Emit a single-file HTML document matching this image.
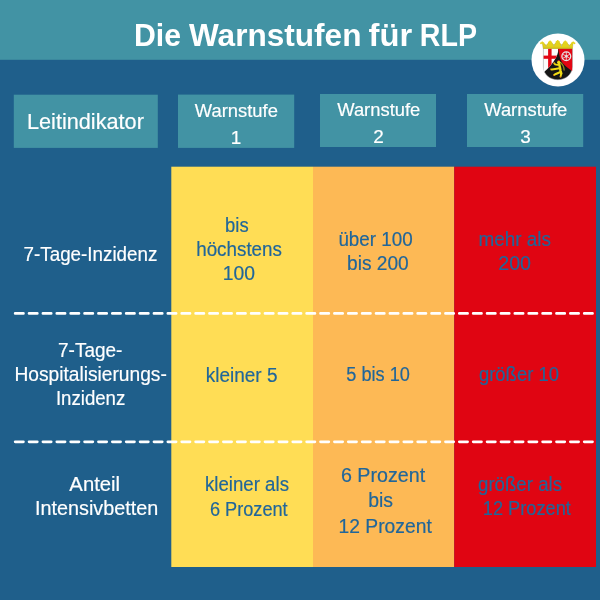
<!DOCTYPE html>
<html><head><meta charset="utf-8"><style>
html,body{margin:0;padding:0;width:600px;height:600px;overflow:hidden;background:#1F5F8B;}
svg{display:block;will-change:transform;filter:blur(0.4px);font-family:"Liberation Sans",sans-serif;}
</style></head><body>
<svg width="600" height="600" viewBox="0 0 600 600">
<rect width="600" height="600" fill="#1F5F8B"/>
<rect width="600" height="59.8" fill="#4293A4"/>
<rect x="13.8" y="94.7" width="144" height="53.2" fill="#4293A4"/>
<rect x="178" y="94.6" width="116.2" height="53.3" fill="#4293A4"/>
<rect x="320" y="94" width="116" height="53" fill="#4293A4"/>
<rect x="467" y="94" width="116.2" height="53" fill="#4293A4"/>
<rect x="171.3" y="166.7" width="141.7" height="400.3" fill="#FFDD55"/>
<rect x="313" y="166.7" width="141.2" height="400.3" fill="#FDB955"/>
<rect x="454.2" y="166.7" width="141.8" height="400.3" fill="#E00512"/>
<line x1="15.2" y1="313.4" x2="596" y2="313.4" stroke="#fff" stroke-width="2.8" stroke-linecap="round" stroke-dasharray="8.2 5.68"/>
<line x1="15.2" y1="441.8" x2="596" y2="441.8" stroke="#fff" stroke-width="2.8" stroke-linecap="round" stroke-dasharray="8.2 5.68"/>
<text x="133.98" y="45.6" textLength="47.06" lengthAdjust="spacingAndGlyphs" font-size="32" fill="#fff" font-weight="bold">Die</text>
<text x="188.97" y="45.6" textLength="172.48" lengthAdjust="spacingAndGlyphs" font-size="32" fill="#fff" font-weight="bold">Warnstufen</text>
<text x="368.54" y="45.6" textLength="43.66" lengthAdjust="spacingAndGlyphs" font-size="32" fill="#fff" font-weight="bold">für</text>
<text x="419.79" y="45.6" textLength="57.19" lengthAdjust="spacingAndGlyphs" font-size="32" fill="#fff" font-weight="bold">RLP</text>
<text x="26.97" y="128.8" textLength="116.89" lengthAdjust="spacingAndGlyphs" font-size="21.2" fill="#fff" font-weight="normal" stroke="#fff" stroke-width="0.18">Leitindikator</text>
<text x="194.82" y="116.6" textLength="83.09" lengthAdjust="spacingAndGlyphs" font-size="18.9" fill="#fff" font-weight="normal" stroke="#fff" stroke-width="0.18">Warnstufe</text>
<text x="236" y="143.7" text-anchor="middle" font-size="18.9" fill="#fff" font-weight="normal" stroke="#fff" stroke-width="0.18">1</text>
<text x="337.22" y="115.6" textLength="83.09" lengthAdjust="spacingAndGlyphs" font-size="18.9" fill="#fff" font-weight="normal" stroke="#fff" stroke-width="0.18">Warnstufe</text>
<text x="378.4" y="142.9" text-anchor="middle" font-size="18.9" fill="#fff" font-weight="normal" stroke="#fff" stroke-width="0.18">2</text>
<text x="484.22" y="115.6" textLength="83.09" lengthAdjust="spacingAndGlyphs" font-size="18.9" fill="#fff" font-weight="normal" stroke="#fff" stroke-width="0.18">Warnstufe</text>
<text x="525.4" y="142.9" text-anchor="middle" font-size="18.9" fill="#fff" font-weight="normal" stroke="#fff" stroke-width="0.18">3</text>
<text x="23.55" y="260.5" textLength="133.87" lengthAdjust="spacingAndGlyphs" font-size="19.3" fill="#fff" font-weight="normal" stroke="#fff" stroke-width="0.18">7-Tage-Inzidenz</text>
<text x="58.06" y="356.7" textLength="64.36" lengthAdjust="spacingAndGlyphs" font-size="19.3" fill="#fff" font-weight="normal" stroke="#fff" stroke-width="0.18">7-Tage-</text>
<text x="14.43" y="381" textLength="152.43" lengthAdjust="spacingAndGlyphs" font-size="19.3" fill="#fff" font-weight="normal" stroke="#fff" stroke-width="0.18">Hospitalisierungs-</text>
<text x="55.88" y="405.4" textLength="69.45" lengthAdjust="spacingAndGlyphs" font-size="19.3" fill="#fff" font-weight="normal" stroke="#fff" stroke-width="0.18">Inzidenz</text>
<text x="69.36" y="491.2" textLength="50.75" lengthAdjust="spacingAndGlyphs" font-size="19.3" fill="#fff" font-weight="normal" stroke="#fff" stroke-width="0.18">Anteil</text>
<text x="34.97" y="515.3" textLength="123.31" lengthAdjust="spacingAndGlyphs" font-size="19.3" fill="#fff" font-weight="normal" stroke="#fff" stroke-width="0.18">Intensivbetten</text>
<text x="225.11" y="231.7" textLength="23.55" lengthAdjust="spacingAndGlyphs" font-size="19.3" fill="#20669A" font-weight="normal" stroke="#20669A" stroke-width="0.18">bis</text>
<text x="196.20" y="255.8" textLength="85.78" lengthAdjust="spacingAndGlyphs" font-size="19.3" fill="#20669A" font-weight="normal" stroke="#20669A" stroke-width="0.18">höchstens</text>
<text x="222.73" y="280" textLength="32.23" lengthAdjust="spacingAndGlyphs" font-size="19.3" fill="#20669A" font-weight="normal" stroke="#20669A" stroke-width="0.18">100</text>
<text x="205.72" y="381.7" textLength="71.78" lengthAdjust="spacingAndGlyphs" font-size="19.3" fill="#20669A" font-weight="normal" stroke="#20669A" stroke-width="0.18">kleiner 5</text>
<text x="205.04" y="490.8" textLength="83.93" lengthAdjust="spacingAndGlyphs" font-size="19.3" fill="#20669A" font-weight="normal" stroke="#20669A" stroke-width="0.18">kleiner als</text>
<text x="209.88" y="515.8" textLength="77.76" lengthAdjust="spacingAndGlyphs" font-size="19.3" fill="#20669A" font-weight="normal" stroke="#20669A" stroke-width="0.18">6 Prozent</text>
<text x="338.42" y="246.2" textLength="74.31" lengthAdjust="spacingAndGlyphs" font-size="19.3" fill="#20669A" font-weight="normal" stroke="#20669A" stroke-width="0.18">über 100</text>
<text x="347.07" y="270.4" textLength="61.68" lengthAdjust="spacingAndGlyphs" font-size="19.3" fill="#20669A" font-weight="normal" stroke="#20669A" stroke-width="0.18">bis 200</text>
<text x="346.27" y="381.2" textLength="63.64" lengthAdjust="spacingAndGlyphs" font-size="19.3" fill="#20669A" font-weight="normal" stroke="#20669A" stroke-width="0.18">5 bis 10</text>
<text x="340.90" y="481.6" textLength="84.24" lengthAdjust="spacingAndGlyphs" font-size="19.3" fill="#20669A" font-weight="normal" stroke="#20669A" stroke-width="0.18">6 Prozent</text>
<text x="368.15" y="507.25" textLength="24.86" lengthAdjust="spacingAndGlyphs" font-size="19.3" fill="#20669A" font-weight="normal" stroke="#20669A" stroke-width="0.18">bis</text>
<text x="338.53" y="532.9" textLength="93.31" lengthAdjust="spacingAndGlyphs" font-size="19.3" fill="#20669A" font-weight="normal" stroke="#20669A" stroke-width="0.18">12 Prozent</text>
<text x="478.44" y="245.8" textLength="72.54" lengthAdjust="spacingAndGlyphs" font-size="19.3" fill="#20669A" font-weight="normal" stroke="#20669A" stroke-width="0.18">mehr als</text>
<text x="498.21" y="270.3" textLength="32.86" lengthAdjust="spacingAndGlyphs" font-size="19.3" fill="#20669A" font-weight="normal" stroke="#20669A" stroke-width="0.18">200</text>
<text x="478.92" y="380.8" textLength="80.10" lengthAdjust="spacingAndGlyphs" font-size="19.3" fill="#20669A" font-weight="normal" stroke="#20669A" stroke-width="0.18">größer 10</text>
<text x="478.02" y="490.7" textLength="83.96" lengthAdjust="spacingAndGlyphs" font-size="19.3" fill="#20669A" font-weight="normal" stroke="#20669A" stroke-width="0.18">größer als</text>
<text x="482.81" y="515" textLength="88.12" lengthAdjust="spacingAndGlyphs" font-size="19.3" fill="#20669A" font-weight="normal" stroke="#20669A" stroke-width="0.18">12 Prozent</text>

<circle cx="558" cy="60" r="26.5" fill="#fff"/>
<defs><clipPath id="wc"><path d="M543.4 48.4 H558 V52 C557.3 57 551.5 66 543.4 72.4 Z"/></clipPath></defs>
<path d="M543.4 48.4 H572.2 V67 C572.2 74.5 565.5 79.7 557.8 79.7 C550 79.7 543.4 74.5 543.4 67 Z" fill="#161616" stroke="#9a9a9a" stroke-width="0.5"/>
<path d="M543.4 48.4 H558 V52 C557.3 57 551.5 66 543.4 72.4 Z" fill="#fbfbfb"/>
<g clip-path="url(#wc)"><rect x="548.1" y="48.4" width="3.5" height="20" fill="#e30613"/><rect x="543.4" y="55.6" width="16" height="3.2" fill="#e30613"/></g>
<path d="M558 48.4 H572.2 V71 C565 66.5 560.5 62 559.6 56 L558 48.4 Z" fill="#e30613"/>
<circle cx="566.3" cy="56.3" r="4.4" fill="none" stroke="#e6e6e6" stroke-width="1.3"/>
<circle cx="566.3" cy="56.3" r="1.2" fill="#e6e6e6"/>
<path d="M566.3 51.9 V60.7 M562.5 54.1 L570.1 58.5 M570.1 54.1 L562.5 58.5" stroke="#e6e6e6" stroke-width="0.8"/>
<path d="M560.5 62.4 C562.5 64 564 67 564.1 70.1" fill="none" stroke="#8e8a1a" stroke-width="1.3" stroke-linecap="round"/>
<g fill="none" stroke="#f0dc14" stroke-linecap="round" stroke-linejoin="round">
<path d="M558.8 62.5 C559.5 65.5 560.2 68 560.5 70.5 L561.3 73.5" stroke-width="2.4"/>
<path d="M558.5 64.8 C556.5 65 554.8 64.8 554.2 63.3" stroke-width="1.9"/>
<path d="M559.6 68.3 C556.5 69 553 69.6 550.9 69.4" stroke-width="1.9"/>
<path d="M560.5 72 C558 73 555.5 74 554.1 75" stroke-width="1.9"/>
<path d="M561.2 73 C561.3 74.5 560.8 75.8 560.5 76.6" stroke-width="1.9"/>
</g>
<circle cx="558.7" cy="62.3" r="1.6" fill="#f0dc14"/>
<rect x="557.7" y="60" width="1.9" height="0.9" fill="#d02020"/>
<g fill="#c83018"><circle cx="550.4" cy="69.3" r="0.55"/><circle cx="553.7" cy="75.3" r="0.55"/><circle cx="560.4" cy="77.1" r="0.55"/><circle cx="553.9" cy="62.9" r="0.5"/></g>
<path d="M542.2 42.0 L546.2 45.3 L550.1 41.1 L553.9 45.0 L557.7 40.6 L561.5 45.0 L565.3 41.1 L569.2 45.3 L573.2 42.0 L572.4 48.4 H543.2 Z" fill="#e4d21a" stroke="#9a8c10" stroke-width="0.35" stroke-linejoin="round"/>
<circle cx="541.0" cy="43.3" r="0.95" fill="#e6d41c"/><circle cx="543.4" cy="43.3" r="0.95" fill="#e6d41c"/><circle cx="542.2" cy="42.5" r="1.0" fill="#e6d41c"/>
<circle cx="548.9" cy="42.4" r="0.95" fill="#e6d41c"/><circle cx="551.3" cy="42.4" r="0.95" fill="#e6d41c"/><circle cx="550.1" cy="41.6" r="1.0" fill="#e6d41c"/>
<circle cx="556.5" cy="41.9" r="0.95" fill="#e6d41c"/><circle cx="558.9" cy="41.9" r="0.95" fill="#e6d41c"/><circle cx="557.7" cy="41.1" r="1.0" fill="#e6d41c"/>
<circle cx="564.1" cy="42.4" r="0.95" fill="#e6d41c"/><circle cx="566.5" cy="42.4" r="0.95" fill="#e6d41c"/><circle cx="565.3" cy="41.6" r="1.0" fill="#e6d41c"/>
<circle cx="572.0" cy="43.3" r="0.95" fill="#e6d41c"/><circle cx="574.4" cy="43.3" r="0.95" fill="#e6d41c"/><circle cx="573.2" cy="42.5" r="1.0" fill="#e6d41c"/>
<circle cx="546.2" cy="45.9" r="0.6" fill="#b0b0a8"/>
<circle cx="553.9" cy="45.6" r="0.6" fill="#b0b0a8"/>
<circle cx="561.5" cy="45.6" r="0.6" fill="#b0b0a8"/>
<circle cx="569.2" cy="45.9" r="0.6" fill="#b0b0a8"/>
<rect x="543.2" y="46.8" width="29.2" height="1.6" fill="#d8c61a"/>
</svg>
</body></html>
